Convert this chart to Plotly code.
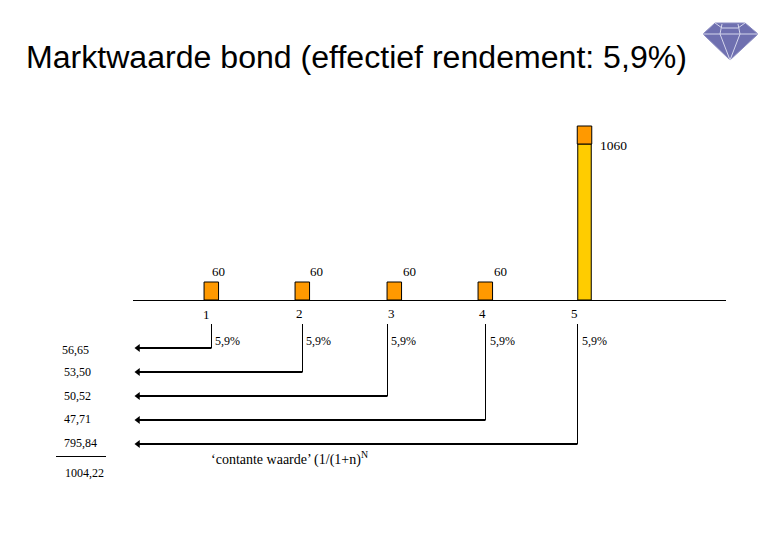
import plotly.graph_objects as go

# waarden
periods = ["1", "2", "3", "4", "5"]
coupons = [60, 60, 60, 60, 60]
principal = [1000]
final_flow = "1060"
rate_labels = ["5,9%", "5,9%", "5,9%", "5,9%", "5,9%"]
present_values = ["56,65", "53,50", "50,52", "47,71", "795,84"]
total_value = "1004,22"
title_text = "Marktwaarde bond (effectief rendement: 5,9%)"
note_text = "‘contante waarde’ (1/(1+n)<sup>N</sup>"

# schema-opmaak, alles in pagina-pixels
W, H = 780, 540
PAGE_MARGIN = 8  # de browser zet de grafiek 8px naar binnen
BASE_Y = 300
COUPON_PX = 18 / 60
PRINCIPAL_PX = 156 / 1000
bar_x = [211.3, 302.3, 394.3, 485.3, 584.5]
stem_x = [211.5, 302.5, 387.5, 485.5, 577.5]
arrow_y = [348, 372, 396, 420, 444]
period_label_x = [206, 299, 391, 482, 574]
coupon_label_x = [218, 316, 409, 500]
rate_label_x = [227, 318, 403, 502, 594]
value_label_x = [75.5, 77.5, 77.5, 77.5, 80.5]
ORANGE = "#ff9900"
YELLOW = "#ffcc00"
SERIF = "Liberation Serif"

fig = go.Figure()

# staven
fig.add_trace(go.Bar(
    x=bar_x[:4], y=[-c * COUPON_PX for c in coupons[:4]], base=BASE_Y, width=14.5,
    marker=dict(color=ORANGE, line=dict(color="black", width=1))))
fig.add_trace(go.Bar(
    x=bar_x[4:], y=[-principal[0] * PRINCIPAL_PX], base=BASE_Y, width=13.5,
    marker=dict(color=YELLOW, line=dict(color="black", width=1))))
fig.add_trace(go.Bar(
    x=bar_x[4:], y=[-coupons[4] * COUPON_PX], base=BASE_Y - principal[0] * PRINCIPAL_PX, width=14.5,
    marker=dict(color=ORANGE, line=dict(color="black", width=1))))

# tijdlijn
fig.add_trace(go.Scatter(x=[133, 726], y=[BASE_Y + 0.5, BASE_Y + 0.5], mode="lines",
                         line=dict(color="black", width=1)))

# pijlen
for sx, ay in zip(stem_x, arrow_y):
    fig.add_trace(go.Scatter(x=[sx, sx], y=[324, ay], mode="lines",
                             line=dict(color="black", width=1)))
    fig.add_trace(go.Scatter(x=[sx, 138], y=[ay, ay], mode="lines",
                             line=dict(color="black", width=2)))
    fig.add_trace(go.Scatter(x=[138], y=[ay], mode="markers",
                             marker=dict(symbol="triangle-left", size=7, color="black")))

# somstreep
fig.add_trace(go.Scatter(x=[56, 106], y=[456.5, 456.5], mode="lines",
                         line=dict(color="black", width=1)))

# diamant
fig.add_trace(go.Scatter(x=[703, 715, 745, 758, 730, 703], y=[34, 23, 23, 34, 60, 34],
                         mode="lines", fill="toself", fillcolor="#6f70b0",
                         line=dict(color="#8a8bc0", width=1)))
facets = [
    ([703, 758], [34, 34]),
    ([722, 720, 730, 740, 738], [24, 34, 60, 34, 24]),
    ([722, 738], [28, 28]),
    ([715, 722], [23, 28]),
    ([745, 738], [23, 28]),
]
for fx, fy in facets:
    fig.add_trace(go.Scatter(x=fx, y=fy, mode="lines", line=dict(color="#d5d6ec", width=1)))


def label(x, y, text, size=12, family=SERIF):
    fig.add_annotation(x=x, y=y, text=text, showarrow=False, xanchor="center", yanchor="middle",
                       font=dict(family=family, size=size, color="black"))


fig.add_annotation(x=24, y=57, text=title_text, showarrow=False, xanchor="left", yanchor="middle",
                   font=dict(family="Liberation Sans", size=32.1, color="black"))
label(613.5, 145, final_flow, size=13.5)
for x, c in zip(coupon_label_x, coupons[:4]):
    label(x, 271, str(c), size=13)
for x, p, y in zip(period_label_x, periods, [314, 313, 313, 313, 313]):
    label(x, y, p, size=13)
for x, r in zip(rate_label_x, rate_labels):
    label(x, 341, r)
for x, v, y in zip(value_label_x, present_values, [350, 372, 396, 419, 443]):
    label(x, y, v)
label(84, 473, total_value)
label(289, 458, note_text, size=14)

fig.update_layout(
    width=W, height=H, margin=dict(l=0, r=0, t=0, b=0),
    paper_bgcolor="white", plot_bgcolor="white", showlegend=False, barmode="overlay",
    xaxis=dict(range=[PAGE_MARGIN, W + PAGE_MARGIN], visible=False, fixedrange=True),
    yaxis=dict(range=[H + PAGE_MARGIN, PAGE_MARGIN], visible=False, fixedrange=True),
)

fig.write_html("out.html", config=dict(displayModeBar=False))
